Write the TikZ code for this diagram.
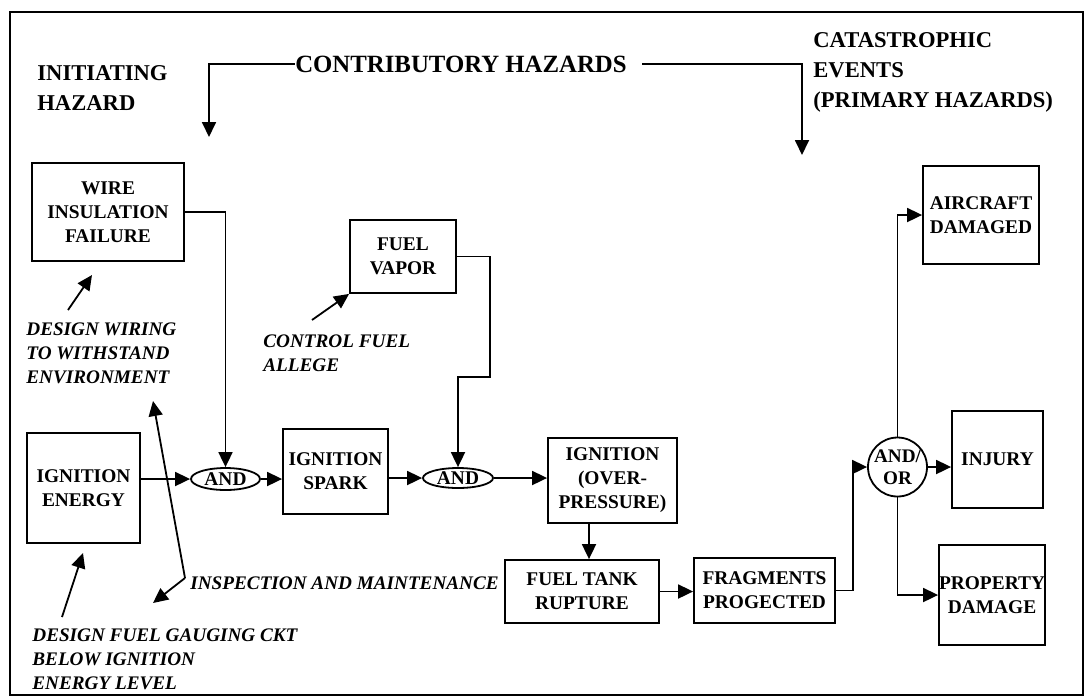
\documentclass[tikz,border=0pt]{standalone}
\usepackage{fontspec}
\setmainfont{Liberation Serif}
\usetikzlibrary{arrows.meta,positioning,shapes.geometric}

\begin{document}
\begin{tikzpicture}[
  x=0.5pt, y=-0.5pt,
  font=\bfseries\fontsize{9.7}{12}\selectfont,
  box/.style={rectangle, draw, line width=0.9pt, align=center, inner sep=0pt},
  gate/.style={ellipse, draw, line width=0.9pt, inner sep=0pt,
               minimum width=34.5pt, minimum height=11pt},
  head/.style={align=left, inner sep=0pt, font=\bfseries\fontsize{11.3}{15}\selectfont},
  note/.style={align=left, inner sep=0pt, font=\bfseries\itshape\fontsize{9.6}{12.2}\selectfont},
  arr/.style={-{Triangle[length=7.5pt,width=7pt]}, line width=0.9pt}
]
\useasboundingbox (0,0) rectangle (1087,698);
\draw[line width=1pt] (10,12) rectangle (1083,695);

% headings
\node[head, anchor=north west] (init) at (37,65) {INITIATING\\HAZARD};
\node[head, font=\bfseries\fontsize{12.4}{15}\selectfont] (contrib) at (461,64) {CONTRIBUTORY HAZARDS};
\node[head, anchor=north west] (cat) at (813,32) {CATASTROPHIC\\EVENTS\\(PRIMARY HAZARDS)};
\coordinate (cl) at (209,137);
\coordinate (cr) at (802,155);

% event boxes
\node[box, minimum width=76pt, minimum height=49pt] (wire) at (108,212) {WIRE\\INSULATION\\FAILURE};
\node[box, minimum width=53pt, minimum height=36.5pt] (vapor) at (403,256.5) {FUEL\\VAPOR};
\node[box, minimum width=56.5pt, minimum height=55pt] (energy) at (83.5,488) {IGNITION\\ENERGY};
\node[box, minimum width=52.5pt, minimum height=42.5pt] (spark) at (335.5,471.5) {IGNITION\\SPARK};
\node[box, minimum width=64.5pt, minimum height=42.5pt] (overp) at (612.5,480.5) {IGNITION\\(OVER-\\PRESSURE)};
\node[box, minimum width=77pt, minimum height=31.5pt] (rupture) at (582,591.5) {FUEL TANK\\RUPTURE};
\node[box, minimum width=70.5pt, minimum height=32.5pt] (frag) at (764.5,590.5) {FRAGMENTS\\PROGECTED};
\node[box, minimum width=58pt, minimum height=49pt] (aircraft) at (981,215) {AIRCRAFT\\DAMAGED};
\node[box, minimum width=45.5pt, minimum height=48.5pt] (injury) at (997.5,459.5) {INJURY};
\node[box, minimum width=53pt, minimum height=50pt] (property) at (992,595) {PROPERTY\\DAMAGE};

% gates
\node[gate] (and1) at (225.5,479) {AND};
\node[gate, minimum width=35pt, minimum height=10pt] (and2) at (458,478) {AND};
\node[circle, draw, line width=0.9pt, inner sep=0pt, minimum size=29.5pt, align=center,
      font=\bfseries\fontsize{9.6}{11}\selectfont] (andor) at (897.5,467) {AND/\\OR};

% remedies
\node[note, anchor=north west] (wiring) at (26,322) {DESIGN WIRING\\TO WITHSTAND\\ENVIRONMENT};
\node[note, anchor=north west] (allege) at (263,334) {CONTROL FUEL\\ALLEGE};
\node[note, anchor=west] (inspect) at (190,583) {INSPECTION AND MAINTENANCE};
\node[note, anchor=north west] (gauging) at (32,628) {DESIGN FUEL GAUGING CKT\\BELOW IGNITION\\ENERGY LEVEL};
\coordinate (w1) at (68,310);
\coordinate (w2) at (92,275);
\coordinate (a1) at (312,320);
\coordinate (i0) at (185,578);
\coordinate (i1) at (153,401);
\coordinate (i2) at (153,603);
\coordinate (g1) at (62,617);
\coordinate (g2) at (83,553);
\coordinate (drop) at (589,0);

% connectors
\draw[arr] (contrib.west) -| (cl);
\draw[arr, shorten <=7.5pt] (contrib.east) -| (cr);
\draw[arr] (wire.east) -| (and1.north);
\draw[arr] (vapor.east) -| (490,377) -| (and2.north);
\draw[arr] (energy.east |- and1.west) -- (and1.west);
\draw[arr] (and1.east) -- (spark.west |- and1.east);
\draw[arr] (spark.east |- and2.west) -- (and2.west);
\draw[arr] (and2.east) -- (overp.west |- and2.east);
\draw[arr] (overp.south -| drop) -- (rupture.north -| drop);
\draw[arr] (rupture.east) -- (frag.west |- rupture.east);
\draw[arr] (frag.east) -- ++(8.5pt,0) |- (andor.west);
\draw[arr] (andor.north) |- (aircraft.west);
\draw[arr] (andor.east) -- (injury.west |- andor.east);
\draw[arr] (andor.south) |- (property.west);

\draw[arr] (w1) -- (w2);
\draw[arr] (a1) -- (vapor.south west);
\draw[arr] (i0) -- (i1);
\draw[arr] (i0) -- (i2);
\draw[arr] (g1) -- (g2);
\end{tikzpicture}
\end{document}
